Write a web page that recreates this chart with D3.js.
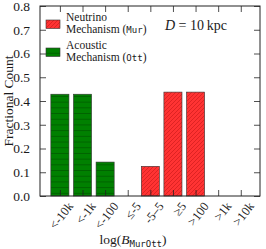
<!DOCTYPE html>
<html>
<head>
<meta charset="utf-8">
<script src="https://cdn.jsdelivr.net/npm/d3@7"></script>
<style>
  body { margin: 0; background: #fff; }
  svg { display: block; }
  text { font-family: "Liberation Serif", "DejaVu Serif", serif; fill: #1a1a1a; }
  .mono { font-family: "DejaVu Sans Mono", "Liberation Mono", monospace; }
</style>
</head>
<body>
<script>
// bins along the x axis
var bins = ["<-10k", "<-1k", "<-100", "\u2264-5", "-5\u20135", "\u22655", ">100", ">1k", ">10k"];
// fractional counts per bin
var acoustic = [3/7, 3/7, 1/7, 0, 0, 0, 0, 0, 0];
var neutrino = [0, 0, 0, 0, 1/8, 7/16, 7/16, 0, 0];
var yTicks = [0, 0.1, 0.2, 0.3, 0.4, 0.5, 0.6, 0.7, 0.8];

var W = 266, H = 249;
var pL = 40, pR = 260, pT = 6, pB = 196;

var svg = d3.select("body").append("svg").attr("width", W).attr("height", H);

var defs = svg.append("defs");
var pg = defs.append("pattern").attr("id", "hatchG").attr("patternUnits", "userSpaceOnUse")
  .attr("width", 6).attr("height", 5.7);
pg.append("rect").attr("width", 6).attr("height", 5.7).attr("fill", "#008000");
pg.append("line").attr("x1", 0).attr("x2", 6).attr("y1", 5.2).attr("y2", 5.2)
  .attr("stroke", "#005a00").attr("stroke-width", 0.8);

var pr = defs.append("pattern").attr("id", "hatchR").attr("patternUnits", "userSpaceOnUse")
  .attr("width", 4).attr("height", 4);
pr.append("rect").attr("width", 4).attr("height", 4).attr("fill", "#ff3333");
pr.append("path").attr("d", "M-1,1 l2,-2 M0,4 l4,-4 M3,5 l2,-2")
  .attr("stroke", "#c81818").attr("stroke-width", 0.6);

var x = d3.scaleLinear().domain([-0.88, 8.85]).range([pL, pR]);
var y = d3.scaleLinear().domain([0, 0.8]).range([pB, pT]);
var step = x(1) - x(0);
var bw = step * 0.8;

function drawBars(vals, fill) {
  svg.append("g").selectAll("rect")
    .data(vals.map(function(v, i){ return {i: i, v: v}; }).filter(function(d){ return d.v > 0; }))
    .enter().append("rect")
    .attr("x", function(d){ return x(d.i) - bw/2; })
    .attr("y", function(d){ return y(d.v); })
    .attr("width", bw)
    .attr("height", function(d){ return y(0) - y(d.v); })
    .attr("fill", fill)
    .attr("stroke", "#333")
    .attr("stroke-width", 0.6);
}
drawBars(acoustic, "url(#hatchG)");
drawBars(neutrino, "url(#hatchR)");

// axes with inward ticks
var idx = d3.range(bins.length);
var axB = svg.append("g").attr("transform", "translate(0," + pB + ")")
  .call(d3.axisBottom(x).tickValues(idx).tickSize(-6).tickFormat(""));
var axT = svg.append("g").attr("transform", "translate(0," + pT + ")")
  .call(d3.axisTop(x).tickValues(idx).tickSize(-6).tickFormat(""));
var axL = svg.append("g").attr("transform", "translate(" + pL + ",0)")
  .call(d3.axisLeft(y).tickValues(yTicks).tickSize(-6).tickPadding(10).tickFormat(d3.format(".1f")));
var axR = svg.append("g").attr("transform", "translate(" + pR + ",0)")
  .call(d3.axisRight(y).tickValues(yTicks).tickSize(-6).tickFormat(""));
[axB, axT, axL, axR].forEach(function(a){
  a.select(".domain").remove();
  a.selectAll("line").attr("stroke", "#222").attr("stroke-width", 0.8);
});
axL.selectAll("text").style("font-family", "'Liberation Serif', serif").style("font-size", "13.5px").attr("fill", "#1a1a1a");

svg.append("rect").attr("x", pL).attr("y", pT).attr("width", pR - pL).attr("height", pB - pT)
  .attr("fill", "none").attr("stroke", "#222").attr("stroke-width", 1);

// rotated bin labels
svg.append("g").selectAll("text").data(bins).enter().append("text")
  .attr("transform", function(d, i){ return "translate(" + (x(i) + 7) + "," + (pB + 5) + ") rotate(-52)"; })
  .attr("text-anchor", "end")
  .attr("dy", "0.7em")
  .style("font-size", "12.5px")
  .text(function(d){ return d; });

// axis titles
svg.append("text")
  .attr("transform", "translate(13," + ((pT + pB)/2) + ") rotate(-90)")
  .attr("text-anchor", "middle")
  .style("font-size", "13.5px")
  .text("Fractional Count");

var xl = svg.append("text").attr("x", 133).attr("y", 244).attr("text-anchor", "middle").style("font-size", "13.5px");
xl.append("tspan").text("log(");
xl.append("tspan").style("font-style", "italic").text("B");
xl.append("tspan").attr("class", "mono").attr("dy", 3).style("font-size", "9px").text("MurOtt");
xl.append("tspan").attr("dy", -3).text(")");

// annotation
var ann = svg.append("text").attr("x", 196).attr("y", 30).attr("text-anchor", "middle").style("font-size", "14px");
ann.append("tspan").style("font-style", "italic").text("D");
ann.append("tspan").text(" = 10\u2009kpc");

// legend
var legend = [
  {l1: "Neutrino", l2: "Mechanism (", code: "Mur", fill: "url(#hatchR)"},
  {l1: "Acoustic", l2: "Mechanism (", code: "Ott", fill: "url(#hatchG)"}
];
var lg = svg.append("g").selectAll("g").data(legend).enter().append("g")
  .attr("transform", function(d, i){ return "translate(46," + (20 + i * 28) + ")"; });
lg.append("rect").attr("width", 14).attr("height", 8.5).attr("fill", function(d){ return d.fill; })
  .attr("stroke", "#333").attr("stroke-width", 0.6);
lg.append("text").attr("x", 20).attr("y", 0.5).style("font-size", "11.5px").text(function(d){ return d.l1; });
var l2 = lg.append("text").attr("x", 20).attr("y", 13).style("font-size", "11.5px");
l2.append("tspan").text(function(d){ return d.l2; });
l2.append("tspan").attr("class", "mono").style("font-size", "9px").text(function(d){ return d.code; });
l2.append("tspan").text(")");
</script>
</body>
</html>
